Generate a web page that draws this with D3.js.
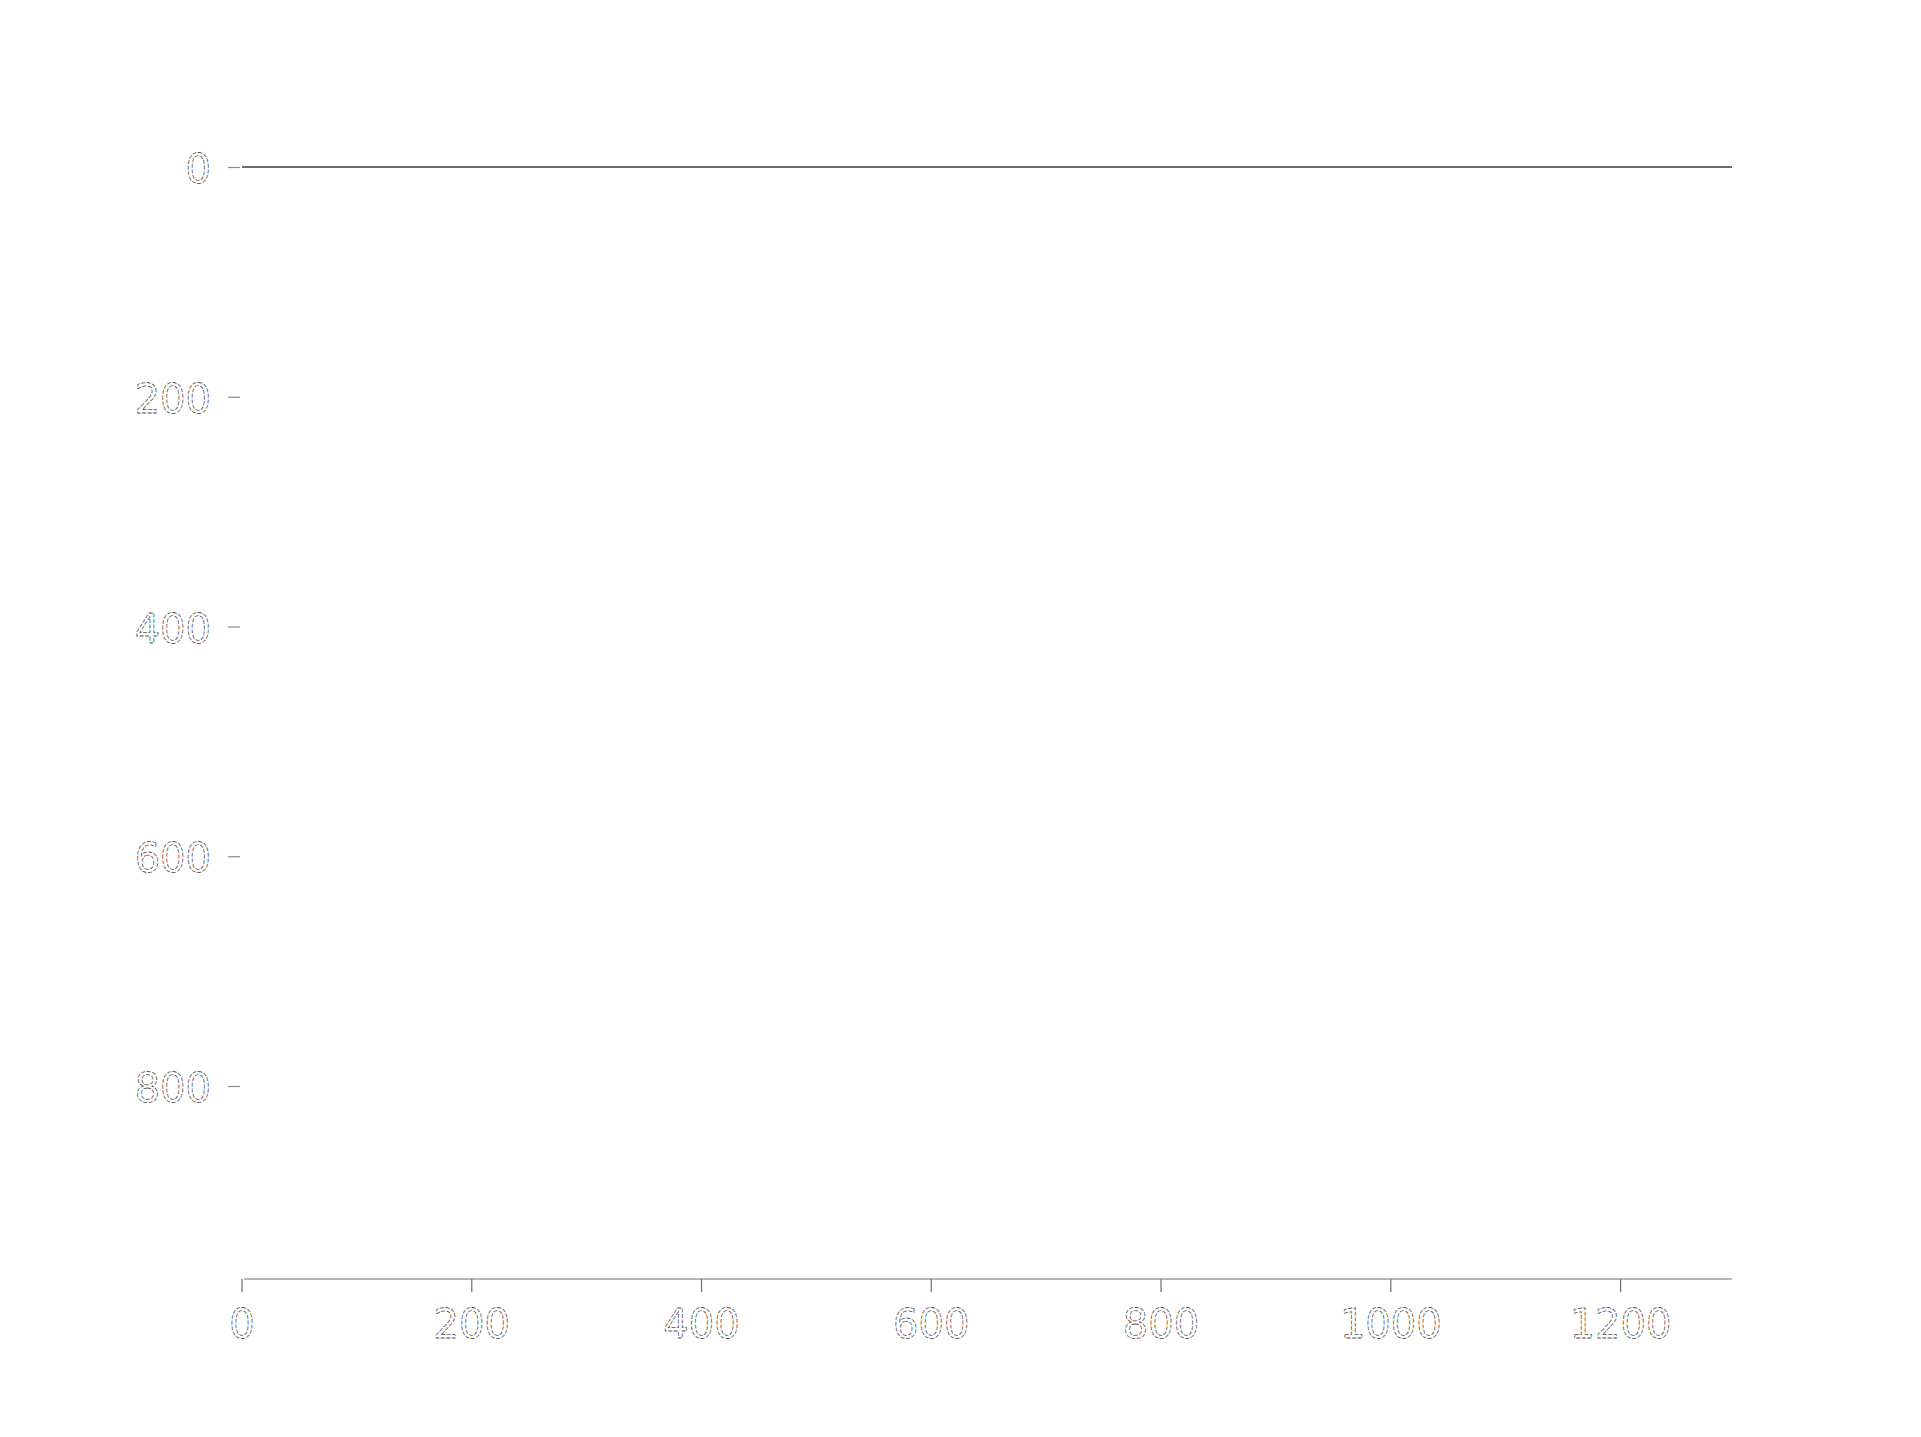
<!DOCTYPE html>
<html>
<head>
<meta charset="utf-8">
<script src="https://cdn.jsdelivr.net/npm/d3@7"></script>
<style>
  html, body { margin: 0; padding: 0; background: #ffffff; }
  svg { display: block; }
  .lbl { font-family: "DejaVu Sans", sans-serif; font-size: 40px; fill: #ffffff; stroke: #555555; stroke-width: 0.8; stroke-dasharray: 4 1.5; }
</style>
</head>
<body>
<script>
// ---- data ----
const xTicks = [0, 200, 400, 600, 800, 1000, 1200];
const yTicks = [0, 200, 400, 600, 800];
const xDomain = [0, 1297];
const yDomain = [0, 968];
const lineX = [0, 1297];
const lineY = [0, 0];

// ---- layout ----
const W = 1921, H = 1437;
const svg = d3.select("body").append("svg").attr("width", W).attr("height", H);

const x = d3.scaleLinear().domain(xDomain).range([242, 1732]);
const y = d3.scaleLinear().domain(yDomain).range([167, 1279]);

// bottom axis line
svg.append("line")
  .attr("x1", x(xDomain[0]) + 2).attr("x2", x(xDomain[1]))
  .attr("y1", y(yDomain[1])).attr("y2", y(yDomain[1]))
  .attr("stroke", "#6e6e6e").attr("stroke-width", 1.2);

// x ticks
const xt = svg.append("g");
xt.selectAll("line").data(xTicks).join("line")
  .attr("x1", d => x(d)).attr("x2", d => x(d))
  .attr("y1", y(yDomain[1])).attr("y2", y(yDomain[1]) + 13)
  .attr("stroke", "#6e6e6e").attr("stroke-width", 1.2);
xt.selectAll("text").data(xTicks).join("text")
  .attr("class", "lbl")
  .attr("x", d => x(d)).attr("y", y(yDomain[1]) + 59)
  .attr("text-anchor", "middle")
  .text(d => d);

// y ticks
const yt = svg.append("g");
yt.selectAll("line").data(yTicks).join("line")
  .attr("x1", x(0) - 14).attr("x2", x(0) - 2)
  .attr("y1", d => y(d) + 0.5).attr("y2", d => y(d) + 0.5)
  .attr("stroke", "#8a8a8a").attr("stroke-width", 1.2);
yt.selectAll("text").data(yTicks).join("text")
  .attr("class", "lbl")
  .attr("x", x(0) - 31).attr("y", d => y(d) + 16)
  .attr("text-anchor", "end")
  .text(d => d);

// the line at zero
svg.append("path")
  .datum(lineX.map((v, i) => [v, lineY[i]]))
  .attr("d", d3.line().x(d => x(d[0])).y(d => y(d[1])))
  .attr("fill", "none").attr("stroke", "#3c3c3c").attr("stroke-width", 1.3);
</script>
</body>
</html>
